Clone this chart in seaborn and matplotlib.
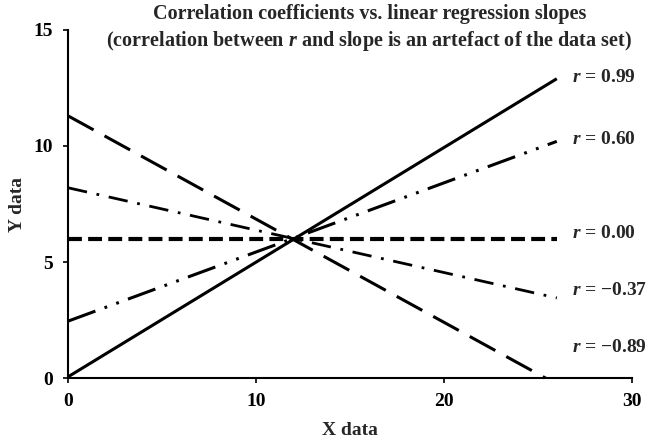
import matplotlib
matplotlib.use("Agg")
import matplotlib.pyplot as plt
import seaborn as sns

# Regression lines, each drawn between its two end points
x_ends = [0, 26]
r_labels = ["0.99", "0.60", "0.00", "\u22120.37", "\u22120.89"]
y_r099 = [0.05, 12.9]
y_r060 = [2.45, 10.2]
y_r000 = [6.0, 6.0]
y_rm037 = [8.2, 3.45]
y_rm089 = [11.3, -0.27]
label_y = [12.95, 10.26, 6.22, 3.78, 1.32]

sns.set_style("ticks")
plt.rcParams["font.family"] = ["Liberation Serif", "DejaVu Serif"]
plt.rcParams["font.weight"] = "bold"
plt.rcParams["mathtext.fontset"] = "custom"
plt.rcParams["mathtext.it"] = "Liberation Serif:italic:bold"
plt.rcParams["mathtext.rm"] = "Liberation Serif:bold"
plt.rcParams["lines.scale_dashes"] = False

fig = plt.figure(figsize=(6.49, 4.43), dpi=100)
ax = fig.add_axes([0.1048, 0.1467, 0.869, 0.7856])

series = [y_r099, y_r060, y_r000, y_rm037, y_rm089]
styles = [
    ("-", 2.2),
    ((0, (21, 7, 2, 7, 2, 7)), 2.2),
    ((0, (10, 4.5)), 3.0),
    ((0, (14, 7, 2, 7)), 2.0),
    ((0, (21, 9)), 2.2),
]
for ys, (ls, lw) in zip(series, styles):
    sns.lineplot(x=x_ends, y=ys, ax=ax, color="black", linestyle=ls,
                 linewidth=lw, solid_capstyle="butt", dash_capstyle="butt")

for lab, yy in zip(r_labels, label_y):
    ax.text(26.8, yy, r"$r$ = " + lab, fontsize=14, fontweight="bold",
            ha="left", va="center", clip_on=False)

ax.set_xlim(0, 30)
ax.set_ylim(0, 15)
ax.set_xticks([0, 10, 20, 30])
ax.set_yticks([0, 5, 10, 15])
ax.tick_params(axis="both", labelsize=14, width=1.2, length=3.6,
               direction="out", colors="black")
ax.tick_params(axis="x", pad=7)
ax.tick_params(axis="y", pad=7.5)
for lab in ax.get_xticklabels() + ax.get_yticklabels():
    lab.set_fontweight("bold")
for s in ["top", "right"]:
    ax.spines[s].set_visible(False)
for s in ["left", "bottom"]:
    ax.spines[s].set_linewidth(1.5)
    ax.spines[s].set_color("black")

ax.set_xlabel("X data", fontsize=14, fontweight="bold", labelpad=9)
ax.set_ylabel("Y data", fontsize=14, fontweight="bold", labelpad=5)

fig.text(0.569, 0.99, "Correlation coefficients vs. linear regression slopes\n"
         "(correlation between $r$ and slope is an artefact of the data set)",
         ha="center", va="top", fontsize=14.5, fontweight="bold",
         linespacing=1.25)

fig.savefig("out.png", dpi=100)
